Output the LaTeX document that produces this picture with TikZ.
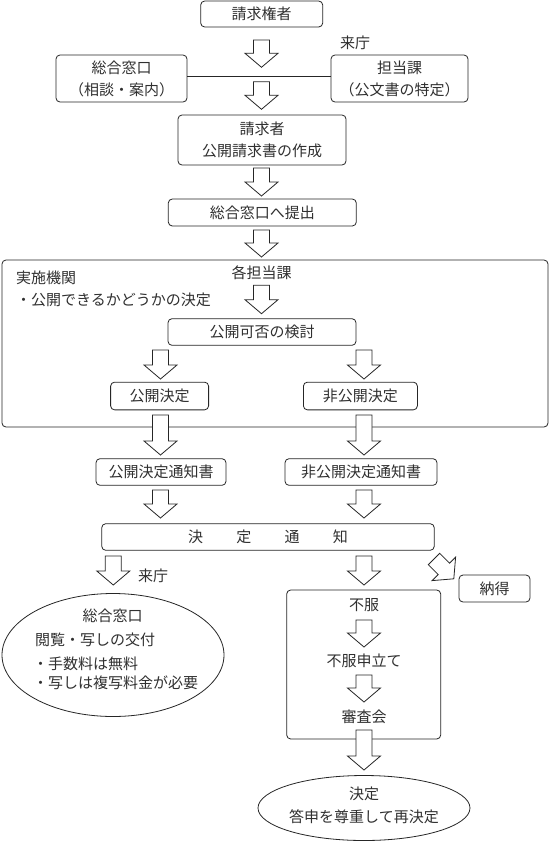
\documentclass[tikz,border=0pt]{standalone}
\usepackage{fontspec}
\setmainfont{Noto Sans CJK JP}
\usetikzlibrary{shapes.geometric}
\definecolor{linec}{HTML}{262626}
\definecolor{textc}{HTML}{303030}
\newcommand\myfs{\fontsize{15pt}{22pt}\selectfont}
\newcommand\barrow[3]{\draw[barr] ({#1-8},#2) -- ({#1+8},#2) -- ({#1+8},{#3-14}) -- ({#1+16.5},{#3-14}) -- (#1,#3) -- ({#1-16.5},{#3-14}) -- ({#1-8},{#3-14}) -- cycle;}
\begin{document}
\begin{tikzpicture}[x=1pt,y=-1pt,
  box/.style={draw=linec, line width=0.8pt, rounded corners=4pt, inner sep=0pt, text=textc, align=center, font=\myfs},
  lbl/.style={inner sep=0pt, text=textc, font=\myfs},
  oval/.style={draw=linec, line width=0.8pt, ellipse, inner sep=0pt},
  conn/.style={draw=linec, line width=0.8pt},
  barr/.style={draw=linec, line width=0.8pt, fill=white, line join=miter}]
\useasboundingbox (0,0) rectangle (550,844);
\fill[white] (0,0) rectangle (550,844);

% top part
\node[box, minimum width=122pt, minimum height=26pt] (kenri) at (261.7,14) {請求権者};
\node[lbl] (raicho1) at (355,43) {来庁};
\node[box, minimum width=131pt, minimum height=47pt] (sogo) at (121.5,78.5) {総合窓口\\（相談・案内）};
\node[box, minimum width=137pt, minimum height=47pt] (tanto) at (399.5,78.5) {担当課\\（公文書の特定）};
\draw[conn] ([yshift=2.5pt]sogo.east) -- ([yshift=2.5pt]tanto.west);
\node[box, minimum width=168pt, minimum height=50pt] (seikyu) at (262,140) {請求者\\公開請求書の作成};
\node[box, minimum width=188pt, minimum height=27pt] (teishutsu) at (262.3,212.5) {総合窓口へ提出};

% implementing body
\node[box, minimum width=546pt, minimum height=167pt] (kikan) at (275,343.5) {};
\node[lbl, anchor=west] (kikanlbl) at (16,277.6) {実施機関};
\node[lbl, anchor=west] (kikannote) at (16,300) {・公開できるかどうかの決定};
\node[lbl] (kaku) at (261.5,273) {各担当課};
\node[box, minimum width=188pt, minimum height=26.6pt] (kahi) at (262,332) {公開可否の検討};
\node[box, minimum width=98pt, minimum height=27.7pt] (kokai) at (159.6,396) {公開決定};
\node[box, minimum width=114pt, minimum height=27.7pt] (hikokai) at (360.4,396) {非公開決定};

% notices
\node[box, minimum width=130pt, minimum height=26.6pt] (kokaitsuchi) at (161,472) {公開決定通知書};
\node[box, minimum width=152pt, minimum height=26.6pt] (hikokaitsuchi) at (361,472) {非公開決定通知書};
\node[box, minimum width=332.5pt, minimum height=26.6pt] (kettei) at (268,537) {決\hspace{33.3pt}定\hspace{33.3pt}通\hspace{33.3pt}知};

% left outcome
\node[lbl] (raicho2) at (153,576) {来庁};
\node[oval, minimum width=222pt, minimum height=123pt] (madoguchi) at (113,655) {};
\node[lbl] (m1) at (112.5,615.5) {総合窓口};
\node[lbl, anchor=west] (m2) at (35,640) {閲覧・写しの交付};
\node[lbl, anchor=west] (m3) at (33,664) {・手数料は無料};
\node[lbl, anchor=west] (m4) at (33,682.5) {・写しは複写料金が必要};

% right outcome
\node[box, minimum width=71pt, minimum height=27pt] (nattoku) at (494.5,588.5) {納得};
\node[box, minimum width=154pt, minimum height=149pt] (fufukubox) at (363.7,664.5) {};
\node[lbl] (fufuku) at (364,605.3) {不服};
\node[lbl] (moushitate) at (364,661) {不服申立て};
\node[lbl] (shinsa) at (364,717) {審査会};
\node[oval, minimum width=212pt, minimum height=65pt] (saikettei) at (364,808) {};
\node[lbl] (s1) at (364,794) {決定};
\node[lbl] (s2) at (364,817) {答申を尊重して再決定};

% block arrows
\barrow{261.5}{40}{67.3}
\barrow{261.5}{81.7}{109.3}
\barrow{261.5}{168}{196}
\barrow{261.5}{230}{257}
\barrow{261.5}{285.3}{313.7}
\barrow{160.5}{350}{379}
\barrow{364}{350}{379}
\barrow{160.5}{415}{455}
\barrow{364}{415}{455}
\barrow{160.5}{490}{518}
\barrow{364}{490}{518}
\barrow{113.3}{556}{585}
\barrow{364}{556}{585}
\barrow{364}{620}{647}
\barrow{364}{675}{702}
\barrow{364}{730}{770}
\draw[barr] (439.7,553.3) -- (449.6,563.2) -- (455.6,557.2) -- (453.8,578.8) -- (432.2,580.6) -- (438.2,574.6) -- (428.3,564.7) -- cycle;
\end{tikzpicture}
\end{document}
